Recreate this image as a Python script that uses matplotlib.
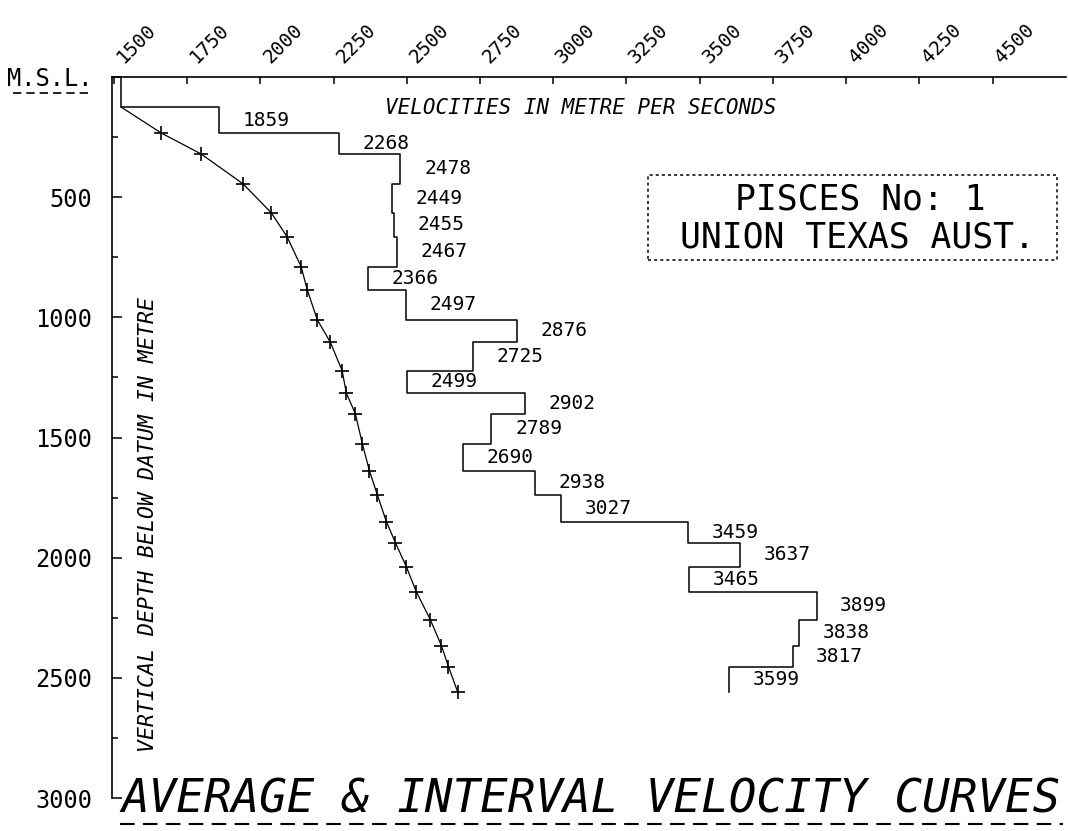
import matplotlib
matplotlib.use('Agg')
import matplotlib.pyplot as plt
from matplotlib.lines import Line2D
from matplotlib.patches import Rectangle
import numpy as np

plt.rcParams['font.family'] = ['DejaVu Sans Mono', 'DejaVu Sans']

# interval boundaries, metres below M.S.L.
depth_bounds = [0, 125, 233, 320, 445, 565, 665, 790, 886, 1010, 1102, 1222, 1314,
                1401, 1526, 1638, 1738, 1850, 1938, 2037, 2141, 2258, 2366, 2453, 2557]
# interval velocities, m/s (first one is the water layer, not labelled)
interval_vel = [1524, 1859, 2268, 2478, 2449, 2455, 2467, 2366, 2497, 2876, 2725, 2499,
                2902, 2789, 2690, 2938, 3027, 3459, 3637, 3465, 3899, 3838, 3817, 3599]
# average velocity at the base of each interval
avg_depth = depth_bounds[1:]
avg_vel = [1524, 1661, 1797, 1941, 2037, 2091, 2139, 2160, 2194, 2238, 2279, 2293,
           2324, 2348, 2372, 2399, 2430, 2461, 2498, 2532, 2580, 2618, 2642, 2673]

x_ticks = list(range(1500, 4501, 250))
y_ticks = [0, 500, 1000, 1500, 2000, 2500, 3000]
y_labels = ['M.S.L.', '500', '1000', '1500', '2000', '2500', '3000']

W, H = 1068, 831
fig = plt.figure(figsize=(W / 100, H / 100), dpi=100)
ax = fig.add_axes([112 / W, 1 - 798 / H, (1066 - 112) / W, (798 - 77) / H])

# interval velocity staircase
xs = np.repeat(interval_vel, 2)
ys = np.column_stack([depth_bounds[:-1], depth_bounds[1:]]).ravel()
ax.plot(xs, ys, color='black', lw=1.1)

for v, top, bot in zip(interval_vel[1:], depth_bounds[1:-1], depth_bounds[2:]):
    ax.annotate(str(v), (v, (top + bot) / 2), xytext=(17, 0), textcoords='offset points',
                ha='left', va='center', fontsize=14)

# average velocity curve
ax.plot(avg_vel, avg_depth, color='black', lw=0.9, marker='+', markersize=10,
        mew=1.2, markevery=list(range(1, len(avg_vel))))

ax.set_xlim(1493, 4751)
ax.set_ylim(3000, 0)

# top velocity scale: ticks inside, labels slanted just right of each tick
ax.xaxis.tick_top()
ax.set_xticks(x_ticks)
ax.set_xticklabels([])
ax.tick_params(axis='x', direction='in', length=5, width=1.1)
for t in x_ticks:
    ax.annotate(str(t), (t, 1), xycoords=('data', 'axes fraction'), xytext=(7, 9.5),
                textcoords='offset points', rotation=45, rotation_mode='anchor',
                ha='left', va='baseline', fontsize=14, annotation_clip=False)

ax.set_yticks(y_ticks)
ax.set_yticklabels(y_labels)
ax.set_yticks(list(range(250, 3000, 500)), minor=True)
ax.tick_params(axis='y', which='major', direction='in', length=7, width=1.1, pad=14, labelsize=17)
ax.tick_params(axis='y', which='minor', direction='in', length=4, width=1.1)

for s in ['right', 'bottom']:
    ax.spines[s].set_visible(False)
for s in ['left', 'top']:
    ax.spines[s].set_linewidth(1.2)

# dashed underline under M.S.L.
fig.add_artist(Line2D([13 / W, 90 / W], [1 - 93 / H] * 2, color='black', lw=1.2,
                      ls=(0, (5, 3)), transform=fig.transFigure))

fig.text(581 / W, 1 - 108 / H, 'VELOCITIES IN METRE PER SECONDS', ha='center', va='center',
         fontsize=15, style='italic')
fig.text(148 / W, 1 - 525 / H, 'VERTICAL DEPTH BELOW DATUM IN METRE', ha='center', va='center',
         fontsize=15.5, style='italic', rotation=90)

# well name box
fig.add_artist(Rectangle((648 / W, 1 - 260 / H), 409 / W, 85 / H, transform=fig.transFigure,
                         fill=False, ec='black', lw=1.1, ls=(0, (2, 2))))
fig.text(860 / W, 1 - 200 / H, 'PISCES No: 1', ha='center', va='center', fontsize=25)
fig.text(857 / W, 1 - 238 / H, 'UNION TEXAS AUST.', ha='center', va='center', fontsize=25)

# bottom title
fig.text(591 / W, 1 - 800 / H, 'AVERAGE & INTERVAL VELOCITY CURVES', ha='center', va='center',
         fontsize=33, style='italic')
fig.add_artist(Line2D([120 / W, 1063 / W], [1 - 824 / H] * 2, color='black', lw=1.5,
                      ls=(0, (7, 4)), transform=fig.transFigure))

fig.savefig('out.png', dpi=100)
